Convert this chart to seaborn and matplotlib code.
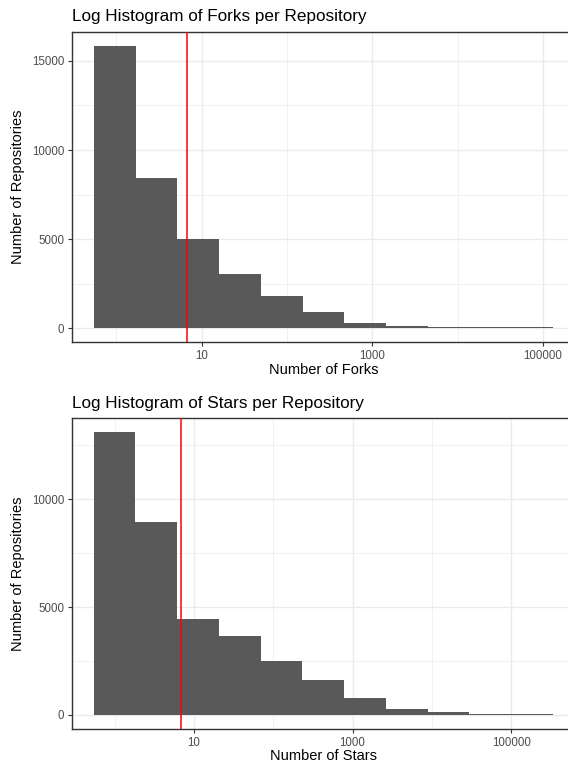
import numpy as np
import pandas as pd
import matplotlib
matplotlib.use("Agg")
import matplotlib.pyplot as plt
import seaborn as sns

# ---- data ----
fork_edges_log = [-0.263, 0.226, 0.715, 1.204, 1.693, 2.182, 2.671, 3.160, 3.649, 4.138, 4.627, 5.116]
fork_counts = [15850, 8420, 4980, 3060, 1790, 930, 265, 110, 55, 50, 45]
fork_mean = 6.8

star_edges_log = [-0.267, 0.260, 0.787, 1.313, 1.840, 2.367, 2.894, 3.421, 3.947, 4.474, 5.001, 5.528]
star_counts = [13130, 8930, 4430, 3680, 2490, 1640, 790, 260, 120, 60, 35]
star_mean = 6.9

x_major = [10, 1000, 100000]
x_major_labels = ["10", "1000", "100000"]
x_minor = [1, 100, 10000]

titles = ["Log Histogram of Forks per Repository", "Log Histogram of Stars per Repository"]
xlabels = ["Number of Forks", "Number of Stars"]
ylabel = "Number of Repositories"

sns.set_style("white")
plt.rcParams["font.family"] = ["Liberation Sans", "DejaVu Sans"]

W, H = 568, 769
fig = plt.figure(figsize=(W / 100, H / 100), dpi=100)

def px_axes(left, top, right, bottom):
    return fig.add_axes([left / W, 1 - bottom / H, (right - left) / W, (bottom - top) / H])

panels = [
    dict(edges=fork_edges_log, counts=fork_counts, mean=fork_mean,
         box=(71.7, 31.7, 575.8, 342.3), xlim=(-0.524, 5.386), yticks=[0, 5000, 10000, 15000],
         yminor=[2500, 7500, 12500], xlab_y=370, title_pad=7.8),
    dict(edges=star_edges_log, counts=star_counts, mean=star_mean,
         box=(71.7, 417.7, 576.0, 729.0), xlim=(-0.542, 5.817), yticks=[0, 5000, 10000],
         yminor=[2500, 7500, 12500], xlab_y=756, title_pad=6.9),
]

grid_col = "#EBEBEB"
for i, p in enumerate(panels):
    ax = px_axes(*p["box"])
    e = [float(v) for v in p["edges"]]
    ea = np.array(e)
    centers = 10 ** ((ea[:-1] + ea[1:]) / 2)
    df = pd.DataFrame({"x": centers, "n": p["counts"]})
    sns.histplot(data=df, x="x", weights="n", bins=e, log_scale=True,
                 color="#595959", alpha=1, edgecolor="none", linewidth=0, ax=ax, zorder=2)
    ax.axvline(p["mean"], color="#FF0000", lw=1.1, zorder=3)

    ax.set_xlim(10 ** p["xlim"][0], 10 ** p["xlim"][1])
    ymax = max(p["counts"])
    ax.set_ylim(-0.05 * ymax, 1.05 * ymax)

    ax.set_xticks(x_major)
    ax.set_xticklabels(x_major_labels)
    ax.set_xticks(x_minor, minor=True)
    ax.set_xticklabels([], minor=True)
    ax.set_yticks(p["yticks"])
    ax.set_yticklabels([str(v) for v in p["yticks"]])
    ax.set_yticks(p["yminor"], minor=True)

    ax.grid(which="major", color=grid_col, lw=1.0, zorder=0)
    ax.grid(which="minor", color=grid_col, lw=0.5, zorder=0)
    ax.set_axisbelow(True)

    ax.tick_params(which="major", direction="out", length=3.0, width=0.8, color="#333333",
                   labelsize=8.3, labelcolor="#4D4D4D", pad=2.4, bottom=True, left=True)
    ax.tick_params(which="minor", length=0, bottom=False, left=False)
    for s in ax.spines.values():
        s.set_color("#333333")
        s.set_linewidth(1.0)

    ax.set_title(titles[i], loc="left", fontsize=12.3, pad=p["title_pad"], color="black")
    ax.set_xlabel(xlabels[i], fontsize=10.5, color="black")
    ax.set_ylabel(ylabel, fontsize=10.5, color="black")
    l, t, r, b = p["box"]
    ax.xaxis.set_label_coords(0.5, (b - p["xlab_y"]) / (b - t))
    ax.xaxis.label.set_va("center")
    ax.yaxis.set_label_coords((18.3 - l) / (r - l), 0.5)
    ax.yaxis.label.set_va("center")

fig.savefig("out.png", dpi=100)
